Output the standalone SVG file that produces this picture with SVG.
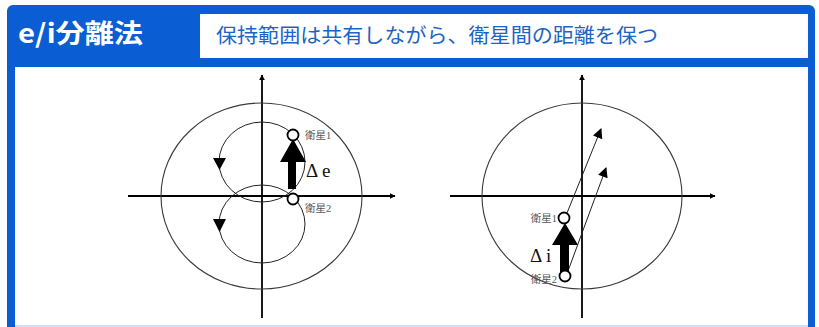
<svg xmlns="http://www.w3.org/2000/svg" width="819" height="327" viewBox="0 0 819 327">
<defs>
<style>
.axis{stroke:#000;stroke-width:1.8;fill:none}
.orb{stroke:#3a3a3a;stroke-width:1.1;fill:none}
.thin{stroke:#222;stroke-width:1;fill:none}
.sat{fill:#fff;stroke:#000;stroke-width:1.8}
.blk{fill:#000}
.lbl{font-family:"Liberation Serif","Noto Sans CJK JP",serif;font-size:10.5px;fill:#555}
.delta{font-family:"Liberation Serif","DejaVu Serif",serif;font-size:19px;fill:#111}
</style>
<marker id="ah" viewBox="0 0 10 10" refX="9" refY="5" markerWidth="6" markerHeight="6" markerUnits="userSpaceOnUse" orient="auto"><path d="M0,0 L10,5 L0,10 z" fill="#000"/></marker>
<marker id="ah2" viewBox="0 0 10 10" refX="9" refY="5" markerWidth="12" markerHeight="10" markerUnits="userSpaceOnUse" orient="auto"><path d="M0,0 L10,5 L0,10 z" fill="#000"/></marker>
</defs>
<g id="frame">
<rect x="7" y="5" width="808" height="330" rx="6" fill="#0a5dd3"/>
<rect x="15" y="67" width="793" height="270" fill="#fff"/>
<rect x="15" y="325" width="793" height="2" fill="#cfe0f6"/>
</g>
<g id="header">
<text x="18" y="43" font-family="'Noto Sans CJK JP','Noto Sans',sans-serif" font-weight="bold" font-size="26" fill="#fff" textLength="125" lengthAdjust="spacingAndGlyphs">e/i分離法</text>
<rect x="200" y="14" width="608" height="44" fill="#fff"/>
<text x="216" y="43" font-family="'Noto Sans CJK JP',sans-serif" font-size="20" fill="#1b64c8" textLength="442" lengthAdjust="spacingAndGlyphs">保持範囲は共有しながら、衛星間の距離を保つ</text>
</g>
<g id="left-diagram">
<line class="axis" x1="262" y1="318" x2="262" y2="75" marker-end="url(#ah)"/>
<line class="axis" x1="128" y1="196" x2="395" y2="196" marker-end="url(#ah)"/>
<ellipse class="orb" cx="261.5" cy="196" rx="100.5" ry="93"/>
<ellipse class="thin" cx="262" cy="162" rx="43" ry="40"/>
<ellipse class="thin" cx="262" cy="224" rx="43" ry="39"/>
<path class="blk" d="M213,158 L226,158 L219.5,170 z"/>
<path class="blk" d="M213,219 L226,219 L219.5,232 z"/>
<path class="blk" d="M288,189 L296,189 L296,162 L306,162 L293,139 L280,162 L288,162 z"/>
<circle class="sat" cx="293" cy="135" r="5.5"/>
<circle class="sat" cx="293" cy="199" r="5.5"/>
<text class="lbl" x="305" y="139">衛星1</text>
<text class="lbl" x="305" y="212">衛星2</text>
<text class="delta" x="306" y="177">Δ e</text>
</g>
<g id="right-diagram">
<line class="axis" x1="582" y1="318" x2="582" y2="75" marker-end="url(#ah)"/>
<line class="axis" x1="450" y1="196" x2="715" y2="196" marker-end="url(#ah)"/>
<ellipse class="orb" cx="582" cy="196" rx="100" ry="93"/>
<line class="thin" x1="567" y1="213" x2="601" y2="129" marker-end="url(#ah2)"/>
<line class="thin" x1="568" y1="271" x2="606" y2="168" marker-end="url(#ah2)"/>
<path class="blk" d="M560,273 L569,273 L569,245 L578,245 L565,223 L552,245 L560,245 z"/>
<circle class="sat" cx="564" cy="218" r="5.5"/>
<circle class="sat" cx="565" cy="276" r="5.5"/>
<text class="lbl" x="557" y="222" text-anchor="end">衛星1</text>
<text class="lbl" x="557" y="283" text-anchor="end">衛星2</text>
<text class="delta" x="530" y="262" font-size="21">Δ i</text>
</g>
</svg>
